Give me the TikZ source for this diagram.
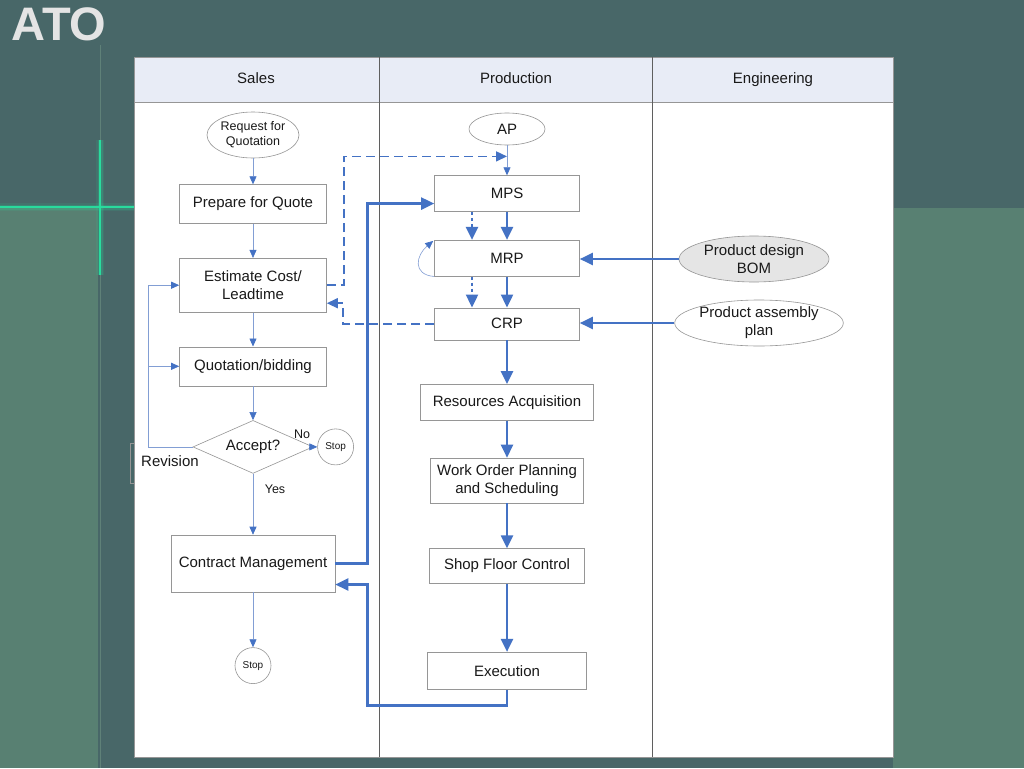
\documentclass[tikz,border=0pt]{standalone}
\usepackage{fontspec}
\setmainfont{Liberation Sans}
\usepackage{tikz}
\usetikzlibrary{positioning}
\usetikzlibrary{arrows.meta,calc,shapes.geometric}
\definecolor{slidebg}{RGB}{72,103,104}
\definecolor{slidegreen}{RGB}{88,128,114}
\definecolor{glowgreen}{RGB}{40,225,160}
\definecolor{headfill}{RGB}{232,236,246}
\definecolor{flowblue}{RGB}{68,114,196}
\definecolor{paleblue}{RGB}{130,158,212}
\definecolor{boxgray}{RGB}{150,150,150}
\definecolor{colgray}{RGB}{95,95,95}
\definecolor{titlegray}{RGB}{228,228,228}
\tikzset{line/.style={draw, line width=0.6pt, paleblue, -{Triangle[length=8pt,width=7pt,color=flowblue]}}}
\tikzset{thickline/.style={draw, line width=2.4pt, flowblue, -{Triangle[length=13pt,width=12pt]}}}
\tikzset{dashline/.style={draw, line width=1.5pt, flowblue, dash pattern=on 9pt off 5pt, -{Triangle[length=11pt,width=10pt]}}}
\tikzset{dotline/.style={draw, line width=2.4pt, flowblue, dash pattern=on 3pt off 3pt, -{Triangle[length=13pt,width=12pt]}}}

\begin{document}
\begin{tikzpicture}[x=1pt,y=1pt]
\tikzstyle{block} = [rectangle, draw=boxgray, fill=white, line width=0.6pt, align=center, inner sep=2pt, text=black!90, font=\fontsize{15}{18}\selectfont]
\tikzstyle{oval} = [ellipse, draw=boxgray, fill=white, line width=0.6pt, align=center, inner sep=0pt, text=black!90, font=\fontsize{12.5}{15}\selectfont]
\tikzstyle{stopper} = [circle, draw=boxgray, fill=white, line width=0.6pt, inner sep=0pt, minimum size=36pt, text=black!90, font=\fontsize{10}{12}\selectfont]
\tikzstyle{tag} = [inner sep=1pt, text=black!90, text height=10.5pt, text depth=3pt]
\useasboundingbox (0,0) rectangle (1024,-768);

% slide
    \fill[slidebg] (0,0) rectangle (1024,-768);
    \fill[slidegreen] (0,-208) rectangle (98,-768);
    \fill[slidegreen] (893,-208) rectangle (1024,-768);
    \draw[slidegreen!90!white, line width=0.7pt, opacity=0.7] (100,-45) -- (100,-768);
    \foreach \w/\o in {8/0.10,5/0.18,2.5/0.35,1.2/0.9}{
        \draw[glowgreen, line width=\w pt, opacity=\o] (0,-207) -- (134,-207);
        \draw[glowgreen, line width=\w pt, opacity=\o] (100,-140) -- (100,-275);
    }
    \node[font=\bfseries\fontsize{47}{52}\selectfont, text=titlegray] (title) at (59,-24.5) {ATO};

% swimlanes
    \draw[boxgray, line width=0.5pt] (130,-443) rectangle (200,-483);
    \fill[white] (134,-57) rectangle (893,-757);
    \fill[headfill] (134,-57) rectangle (893,-102);
    \draw[boxgray, line width=0.6pt] (134,-57) rectangle (893,-757);
    \draw[boxgray, line width=0.6pt] (134,-102) -- (893,-102);
    \draw[colgray, line width=0.7pt] (379,-57) -- (379,-757);
    \draw[colgray, line width=0.7pt] (652,-57) -- (652,-757);
    \node [tag, font=\fontsize{15}{18}\selectfont] (sales) at (256,-80) {Sales};
    \node [tag, font=\fontsize{15}{18}\selectfont] (production) at (516,-80) {Production};
    \node [tag, font=\fontsize{15}{18}\selectfont] (engineering) at (773,-80) {Engineering};

% blocks
    \node [oval, minimum width=92pt, minimum height=46pt] (rfq) at (253,-135) {Request for\\Quotation};
    \node [block, below=26pt of rfq, minimum width=147pt, minimum height=39pt] (prep) {Prepare for Quote};
    \node [block, below=34pt of prep, minimum width=147pt, minimum height=54pt] (est) {Estimate Cost/\\Leadtime};
    \node [block, below=34pt of est, minimum width=147pt, minimum height=39pt] (quot) {Quotation/bidding};
    \node [diamond, draw=boxgray, fill=white, line width=0.6pt, aspect=2.26, inner sep=0pt, minimum width=120pt, minimum height=53pt, text=black!90, font=\fontsize{15}{18}\selectfont, below=34pt of quot] (accept) {Accept?};
    \node [stopper, right=4pt of accept] (stopa) {Stop};
    \node [block, below=61pt of accept, minimum width=164pt, minimum height=57pt] (contract) {Contract Management};
    \node [stopper, below=55pt of contract] (stopb) {Stop};
    \node [tag, font=\fontsize{12.5}{15}\selectfont] (no) at (302,-435) {No};
    \node [tag, font=\fontsize{12.5}{15}\selectfont] (yes) at (275,-490) {Yes};
    \node [tag, font=\fontsize{15}{18}\selectfont] (revision) at (170,-463) {Revision};

    \node [oval, minimum width=76pt, minimum height=32pt, font=\fontsize{15}{18}\selectfont] (ap) at (507,-129) {AP};
    \node [block, below=30pt of ap, minimum width=145pt, minimum height=36pt] (mps) {MPS};
    \node [block, below=28pt of mps, minimum width=145pt, minimum height=36pt] (mrp) {MRP};
    \node [block, below=31pt of mrp, minimum width=145pt, minimum height=32pt] (crp) {CRP};
    \node [block, below=44pt of crp, minimum width=173pt, minimum height=36pt] (res) {Resources Acquisition};
    \node [block, below=37pt of res, minimum width=153pt, minimum height=45pt, font=\fontsize{15}{18}\selectfont] (wo) {Work Order Planning\\and Scheduling};
    \node [block, below=45pt of wo, minimum width=155pt, minimum height=35pt] (sfc) {Shop Floor Control};
    \node [block, below=68pt of sfc, minimum width=159pt, minimum height=37pt] (exec) {Execution};

    \node [oval, fill=black!10, minimum width=150pt, minimum height=46pt, font=\fontsize{15}{18}\selectfont] (bom) at (754,-259) {Product design\\BOM};
    \node [oval, minimum width=152pt, minimum height=46pt, font=\fontsize{15}{18}\selectfont] (asm) at (759,-323) {Product assembly\\plan};
    \coordinate (apin) at ($(ap.south)!0.37!(mps.north)$);

% arrows
    \path [line] (rfq) -- (prep);
    \path [line] (prep) -- (est);
    \path [line] (est) -- (quot);
    \path [line] (quot) -- (accept);
    \path [line] (accept) -- (stopa);
    \path [line] (accept) -- (contract);
    \path [line] (contract) -- (stopb);
    \path [line] (accept.west) -- ++(-44,0) |- (est.west);
    \path [line] (accept.west)++(-44,0) |- (quot.west);
    \path [line] (ap) -- (mps);
    \path [line] (mrp.south west) to[out=175, in=220, looseness=1.6] ([xshift=-1pt,yshift=-1pt]mrp.north west);
    \path [thickline] (mps) -- (mrp);
    \path [thickline] (mrp) -- (crp);
    \path [dotline] ([xshift=-35pt]mps.south) -- ([xshift=-35pt]mrp.north);
    \path [dotline] ([xshift=-35pt]mrp.south) -- ([xshift=-35pt]crp.north);
    \path [thickline] (crp) -- (res);
    \path [thickline] (res) -- (wo);
    \path [thickline] (wo) -- (sfc);
    \path [thickline] (sfc) -- (exec);
    \path [thickline] (bom.west) -- (bom.west -| mrp.east);
    \path [thickline] (asm.west) -- (asm.west -| crp.east);
    \path [thickline] (contract.east) -- ++(32,0) |- ([yshift=-10pt]mps.west);
    \path [thickline] (exec.south) -- ++(0,-16) -| ($(contract.east)+(32,-21)$) -- ([yshift=-21pt]contract.east);
    \path [dashline] (est.east) -- ++(17,0) |- (apin);
    \path [dashline] (crp.west) -- ++(-91,0) |- ([yshift=-18pt]est.east);

\end{tikzpicture}
\end{document}
